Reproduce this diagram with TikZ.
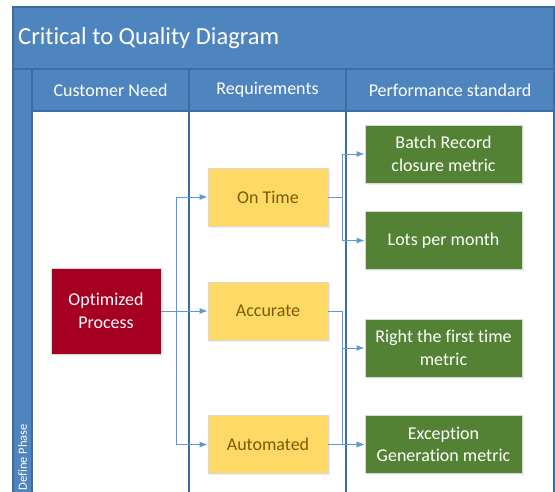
\documentclass[tikz,border=0pt]{standalone}
\usepackage{fontspec}
\setmainfont{Carlito}[Ligatures={NoCommon}]
\usetikzlibrary{arrows.meta,shadows}
\definecolor{band}{HTML}{4F85BF}
\definecolor{bandline}{HTML}{3D6DA5}
\definecolor{arrowc}{HTML}{5B9BD5}
\definecolor{yel}{HTML}{FFD966}
\definecolor{yeltext}{HTML}{7A5C00}
\definecolor{redbox}{HTML}{A50021}
\definecolor{greenbox}{HTML}{548235}
\tikzset{
  boxbase/.style={rectangle, inner sep=2pt, align=center, font=\fontsize{18}{22.5}\selectfont,
    draw=black!15, line width=0.8pt, drop shadow={opacity=0.12, shadow xshift=1.5pt, shadow yshift=-1.5pt}},
  reqbox/.style={boxbase, fill=yel, text=yeltext, minimum width=120pt, minimum height=58pt},
  perfbox/.style={boxbase, fill=greenbox, text=white, minimum width=157pt, minimum height=58pt},
  needbox/.style={boxbase, fill=redbox, text=white, minimum width=110pt, minimum height=86pt},
  conn/.style={draw=arrowc, line width=1pt, -{Latex[length=8pt,width=6pt]}},
  hdr/.style={text=white, font=\fontsize{18}{22}\selectfont, inner sep=0pt},
  lane/.style={draw=bandline, line width=1.2pt}
}
\begin{document}
\begin{tikzpicture}[x=1pt,y=-1pt]
\useasboundingbox (0,0) rectangle (555,491);
\clip (0,0) rectangle (555,491);
% frame
\fill[white] (0,0) rectangle (555,491);
\fill[band] (13,7) rectangle (554,111);
\fill[band] (13,69) rectangle (32,495);
\draw[lane] (13,495) -- (13,7) -- (554,7) -- (554,495);
\draw[lane] (13,69) -- (554,69);
\draw[lane] (32,111) -- (554,111);
\draw[lane] (32,69) -- (32,495);
\draw[lane] (189,69) -- (189,495);
\draw[lane] (346,69) -- (346,495);
% texts
\node[hdr, anchor=west, font=\fontsize{24.5}{28}\selectfont] (title) at (18,38) {Critical to Quality Diagram};
\node[hdr] (h1) at (110.5,90) {Customer Need};
\node[hdr] (h2) at (267.5,90) {Requirements};
\node[hdr] (h3) at (450,90) {Performance standard};
\node[hdr, rotate=90, font=\fontsize{12.5}{14}\selectfont] (phase) at (22.5,457) {Define Phase};
% boxes
\node[needbox] (opt) at (106,311) {Optimized\\Process};
\node[reqbox] (ontime) at (268,197) {On Time};
\node[reqbox] (accurate) at (268,311) {Accurate};
\node[reqbox] (automated) at (268,444.5) {Automated};
\node[perfbox] (batch) at (443.5,154) {Batch Record\\closure metric};
\node[perfbox] (lots) at (443.5,240.5) {Lots per month};
\node[perfbox] (right) at (443.5,348) {Right the first time\\metric};
\node[perfbox] (exc) at (443.5,444.5) {Exception\\Generation metric};
% connectors
\draw[conn] (opt.east) -- (accurate.west);
\draw[conn] (opt.east) -- ++(15,0) |- (ontime.west);
\draw[conn] (opt.east) -- ++(15,0) |- (automated.west);
\draw[conn] (ontime.east) -- ++(14,0) |- (batch.west);
\draw[conn] (ontime.east) -- ++(14,0) |- (lots.west);
\draw[conn] (accurate.east) -- ++(14,0) |- (right.west);
\draw[conn] (accurate.east) -- ++(14,0) |- (exc.west);
\draw[conn] (automated.east) -- (exc.west);
\end{tikzpicture}
\end{document}
